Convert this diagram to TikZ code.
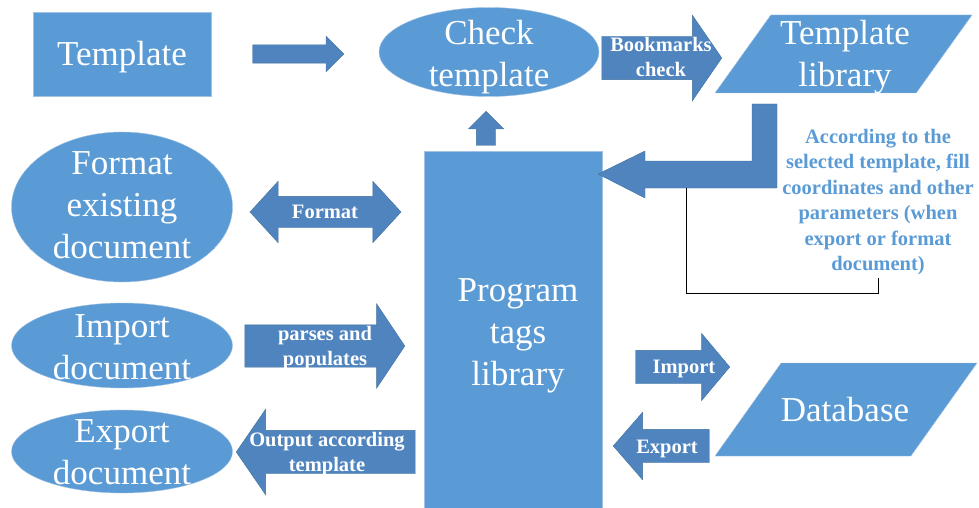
\documentclass[tikz,border=0pt]{standalone}
\usepackage{fontspec}
\setmainfont{Liberation Serif}
\usetikzlibrary{shapes.geometric, shapes.arrows, positioning, calc}
\definecolor{shapeblue}{HTML}{5B9BD5}
\definecolor{edgeblue}{HTML}{A3C1E2}
\definecolor{arrowblue}{HTML}{4F84BE}
\definecolor{arrowedge}{HTML}{41719C}
\tikzset{
  rectbox/.style={rectangle, draw=edgeblue, fill=shapeblue, inner sep=0pt},
  docell/.style={ellipse, draw=edgeblue, fill=shapeblue, inner sep=0pt, minimum width=221pt},
  iobox/.style={trapezium, trapezium stretches=true, draw=edgeblue, fill=shapeblue, inner sep=1pt},
  bigtext/.style={text=white, font=\fontsize{35}{42}\selectfont, align=center, inner sep=0pt},
  arrowtext/.style={text=white, font=\bfseries\fontsize{20.5}{25}\selectfont, align=center, inner sep=0pt},
  notetext/.style={text=shapeblue, font=\bfseries\fontsize{20.5}{25.5}\selectfont, align=center, inner sep=0pt},
  blockarrow/.style={single arrow, draw=arrowedge, fill=arrowblue, inner xsep=0pt, anchor=tip},
  twoarrow/.style={double arrow, draw=arrowedge, fill=arrowblue, inner xsep=0pt}
}
\begin{document}
\begin{tikzpicture}[x=1pt, y=-1pt]
    \useasboundingbox (0,0) rectangle (979,508);

    % Fila superior
    \node (tmpl) [rectbox, minimum width=178pt, minimum height=84pt] at (122,54) {};
    \node (tmpltxt) [bigtext] at (122,57) {Template};
    \node (check) [docell, minimum width=220pt, minimum height=89pt] at (489,52) {};
    \node (checktxt) [bigtext] at (489,57) {Check\\template};
    \node (lib) [iobox, trapezium left angle=69, trapezium right angle=111, minimum width=257pt, minimum height=78pt] at (843.5,54) {};
    \node (libtxt) [bigtext] at (845,57) {Template\\library};

    % Columna izquierda
    \node (fmtdoc) [docell, minimum height=150pt] at (122,207) {};
    \node (fmttxt) [bigtext] at (122,205) {Format\\existing\\document};
    \node (impdoc) [docell, minimum height=85pt] at (122,345.5) {};
    \node (imptxt) [bigtext] at (122,347.5) {Import\\document};
    \node (expdoc) [docell, minimum height=83pt] at (122,451.5) {};
    \node (exptxt) [bigtext] at (122,452.5) {Export\\document};

    % Centro y derecha
    \node (tags) [rectbox, minimum width=178pt, minimum height=357pt] at (513,329.5) {};
    \node (tagstxt) [bigtext] at (518,335.5) {Program\\tags\\library};
    \node (db) [iobox, trapezium left angle=63, trapezium right angle=117, minimum width=262pt, minimum height=93pt] at (846,409.5) {};
    \node (dbtxt) [bigtext] at (845,410) {Database};

    % Flechas
    \node (tplarrow) [blockarrow, inner ysep=9pt, minimum height=91pt, single arrow head extend=8.5pt, single arrow tip angle=90] at (344,54) {};
    \node (bkmarrow) [blockarrow, inner ysep=21.5pt, minimum height=120pt, single arrow head extend=21pt, single arrow tip angle=111] at (722,58) {};
    \node (bkmlbl) [arrowtext] at (661,57) {Bookmarks\\check};
    \node (uparrow) [blockarrow, shape border rotate=90, inner xsep=9.5pt, inner ysep=0pt, minimum height=34pt, single arrow head extend=8pt, single arrow tip angle=90] at (486,111) {};
    \draw [fill=arrowblue, draw=arrowedge] (752,104) -- (777,104) -- (777,188) -- (645,188) -- (645,198) -- (598,174) -- (645,151) -- (645,161) -- (752,161) -- cycle;

    \node (fmtarrow) [twoarrow, inner ysep=15.5pt, minimum height=151pt, double arrow head extend=15pt, double arrow tip angle=95] at (325.5,212) {};
    \node (fmtlbl) [arrowtext] at (325,212) {Format};
    \node (parsearrow) [blockarrow, inner ysep=21pt, minimum height=160pt, single arrow head extend=21pt, single arrow tip angle=112.6] at (405,346) {};
    \node (parselbl) [arrowtext] at (325,348) {parses and\\populates};
    \node (outarrow) [blockarrow, shape border rotate=180, inner ysep=21.5pt, minimum height=179pt, single arrow head extend=21pt, single arrow tip angle=111] at (236,452) {};
    \node (outlbl) [arrowtext] at (327,454) {Output according\\template};
    \node (imparrow) [blockarrow, inner ysep=16.5pt, minimum height=94pt, single arrow head extend=17pt, single arrow tip angle=100] at (730,367) {};
    \node (implbl) [arrowtext] at (684,369) {Import};
    \node (exparrow) [blockarrow, shape border rotate=180, inner ysep=16.5pt, minimum height=96pt, single arrow head extend=17pt, single arrow tip angle=98] at (613,446) {};
    \node (explbl) [arrowtext] at (667,449) {Export};

    % Nota
    \node (note) [notetext] at (878,202) {According to the\\selected template, fill\\coordinates and other\\parameters (when\\export or format\\document)};
    \draw [line width=0.9pt] (686,188) |- ([yshift=-18pt]note.south) -- ([yshift=-3pt]note.south);

\end{tikzpicture}
\end{document}
